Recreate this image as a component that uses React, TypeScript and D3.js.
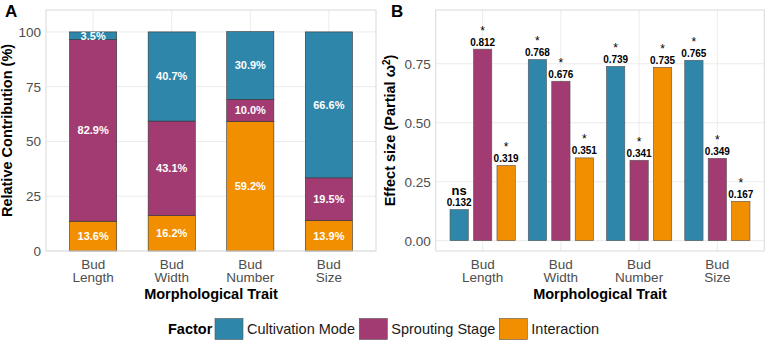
import React from 'react';
import * as d3 from 'd3';

const W = 767;
const H = 340;
const FONT = "'Liberation Sans', Arial, Helvetica, sans-serif";

// data
const traits = ['Bud Length', 'Bud Width', 'Bud Number', 'Bud Size'];
const factors = ['Cultivation Mode', 'Sprouting Stage', 'Interaction'];
const factorColors = ['#2E86AB', '#A23B72', '#F18F01'];

// relative contribution (%), per trait
const contribCultivation = [3.5, 40.7, 30.9, 66.6];
const contribSprouting = [82.9, 43.1, 10.0, 19.5];
const contribInteraction = [13.6, 16.2, 59.2, 13.9];

// partial omega squared, per trait
const effectCultivation = [0.132, 0.768, 0.739, 0.765];
const effectSprouting = [0.812, 0.676, 0.341, 0.349];
const effectInteraction = [0.319, 0.351, 0.735, 0.167];
const sigCultivation = ['ns', '*', '*', '*'];
const sigSprouting = ['*', '*', '*', '*'];
const sigInteraction = ['*', '*', '*', '*'];

const yTicksA = [0, 25, 50, 75, 100];
const yTicksB = [0, 0.25, 0.5, 0.75];

const panelA = { left: 46, right: 376, top: 10, bottom: 251 };
const panelB = { left: 435.7, right: 764.3, top: 10, bottom: 251 };

const gridColor = '#EBEBEB';
const borderColor = '#D9D9D9';
const tickColor = '#4D4D4D';
const TICK = 13.5;
const TITLE = 14.5;

const TraitLabels = ({ x }: { x: d3.ScaleBand<string> }) => (
  <g>
    {traits.map(t => {
      const [l1, l2] = t.split(' ');
      const cx = (x(t) as number) + x.bandwidth() / 2;
      return (
        <text key={t} x={cx} textAnchor="middle" fontSize={TICK} fill={tickColor} fontFamily={FONT}>
          <tspan x={cx} y={268.5}>{l1}</tspan>
          <tspan x={cx} y={282}>{l2}</tspan>
        </text>
      );
    })}
  </g>
);

function PanelA() {
  const p = panelA;
  const x = d3.scaleBand<string>().domain(traits).range([p.left, p.right]).paddingInner(0).paddingOuter(0.1);
  const y = d3.scaleLinear().domain([0, 110]).range([p.bottom, p.top]);
  const barW = x.step() * 0.6;

  const rows = traits.map((t, i) => ({
    trait: t,
    'Interaction': contribInteraction[i],
    'Sprouting Stage': contribSprouting[i],
    'Cultivation Mode': contribCultivation[i],
  }));
  const stackOrder = ['Interaction', 'Sprouting Stage', 'Cultivation Mode'];
  const series = d3.stack<any>().keys(stackOrder)(rows);

  return (
    <g>
      {yTicksA.map(v => (
        <line key={v} x1={p.left} x2={p.right} y1={y(v)} y2={y(v)} stroke={gridColor} strokeWidth={1} />
      ))}
      {traits.map(t => {
        const cx = (x(t) as number) + x.bandwidth() / 2;
        return <line key={t} x1={cx} x2={cx} y1={p.top} y2={p.bottom} stroke={gridColor} strokeWidth={1} />;
      })}
      {series.map(s => {
        const color = factorColors[factors.indexOf(s.key)];
        return (
          <g key={s.key}>
            {s.map((d, i) => {
              const cx = (x(traits[i]) as number) + x.bandwidth() / 2;
              return (
                <rect key={i} x={cx - barW / 2} y={y(d[1])} width={barW} height={y(d[0]) - y(d[1])}
                  fill={color} stroke="#333333" strokeWidth={0.6} />
              );
            })}
          </g>
        );
      })}
      {series.map(s => (
        <g key={'l' + s.key}>
          {s.map((d, i) => {
            const cx = (x(traits[i]) as number) + x.bandwidth() / 2;
            const v = d[1] - d[0];
            return (
              <text key={i} x={cx} y={y((d[0] + d[1]) / 2)} dy="0.36em" textAnchor="middle"
                fontSize={11} fontWeight="bold" fill="white" fontFamily={FONT}>
                {v.toFixed(1) + '%'}
              </text>
            );
          })}
        </g>
      ))}
      <rect x={p.left} y={p.top} width={p.right - p.left} height={p.bottom - p.top} fill="none" stroke={borderColor} strokeWidth={1} />
      {yTicksA.map(v => (
        <text key={v} x={p.left - 5} y={y(v)} dy="0.36em" textAnchor="end" fontSize={TICK} fill={tickColor} fontFamily={FONT}>{v}</text>
      ))}
      <TraitLabels x={x} />
      <text x={(p.left + p.right) / 2} y={298.5} textAnchor="middle" fontSize={TITLE} fontWeight="bold" fontFamily={FONT}>Morphological Trait</text>
      <text transform={`translate(12,${(p.top + p.bottom) / 2}) rotate(-90)`} textAnchor="middle" fontSize={TITLE} fontWeight="bold" fontFamily={FONT}>Relative Contribution (%)</text>
      <text x={5} y={16.5} fontSize={17} fontWeight="bold" fontFamily={FONT}>A</text>
    </g>
  );
}

function PanelB() {
  const p = panelB;
  const x = d3.scaleBand<string>().domain(traits).range([p.left, p.right]).paddingInner(0).paddingOuter(0.1);
  const half = x.step() * 0.45;
  const xf = d3.scaleBand<string>().domain(factors).range([-half, half]).paddingInner(0.22).paddingOuter(0.11);
  const y = d3.scaleLinear().domain([-0.0437, 0.978]).range([p.bottom, p.top]);

  const values = [effectCultivation, effectSprouting, effectInteraction];
  const sigs = [sigCultivation, sigSprouting, sigInteraction];

  return (
    <g>
      {yTicksB.map(v => (
        <line key={v} x1={p.left} x2={p.right} y1={y(v)} y2={y(v)} stroke={gridColor} strokeWidth={1} />
      ))}
      {traits.map(t => {
        const cx = (x(t) as number) + x.bandwidth() / 2;
        return <line key={t} x1={cx} x2={cx} y1={p.top} y2={p.bottom} stroke={gridColor} strokeWidth={1} />;
      })}
      {factors.map((f, fi) => (
        <g key={f}>
          {traits.map((t, i) => {
            const cx = (x(t) as number) + x.bandwidth() / 2;
            const bx = cx + (xf(f) as number);
            const v = values[fi][i];
            const mid = bx + xf.bandwidth() / 2;
            const sig = sigs[fi][i];
            return (
              <g key={t}>
                <rect x={bx} y={y(v)} width={xf.bandwidth()} height={y(0) - y(v)}
                  fill={factorColors[fi]} stroke="#555555" strokeWidth={0.6} />
                <text x={mid} y={y(v) - 3.5} textAnchor="middle" fontSize={10} fontWeight="bold" fontFamily={FONT}>{v.toFixed(3)}</text>
                <text x={mid} y={y(v) - 14.5} textAnchor="middle" fontSize={sig === 'ns' ? 13 : 12}
                  fontWeight={sig === 'ns' ? 'bold' : 'normal'} fontFamily={FONT}>{sig}</text>
              </g>
            );
          })}
        </g>
      ))}
      <rect x={p.left} y={p.top} width={p.right - p.left} height={p.bottom - p.top} fill="none" stroke={borderColor} strokeWidth={1} />
      {yTicksB.map(v => (
        <text key={v} x={p.left - 5} y={y(v)} dy="0.36em" textAnchor="end" fontSize={TICK} fill={tickColor} fontFamily={FONT}>{v.toFixed(2)}</text>
      ))}
      <TraitLabels x={x} />
      <text x={(p.left + p.right) / 2} y={298.5} textAnchor="middle" fontSize={TITLE} fontWeight="bold" fontFamily={FONT}>Morphological Trait</text>
      <text transform={`translate(395,${(p.top + p.bottom) / 2}) rotate(-90)`} textAnchor="middle" fontSize={TITLE} fontWeight="bold" fontFamily={FONT}>
        Effect size (Partial ω<tspan dy="-5" fontSize={10}>2</tspan><tspan dy="5">)</tspan>
      </text>
      <text x={391} y={16.5} fontSize={17} fontWeight="bold" fontFamily={FONT}>B</text>
    </g>
  );
}

function Legend() {
  const keyX = [215, 359.3, 499.3];
  return (
    <g fontFamily={FONT}>
      <text x={168} y={334} fontSize={14.5} fontWeight="bold">Factor</text>
      {factors.map((f, i) => (
        <g key={f}>
          <rect x={keyX[i]} y={318.5} width={28} height={21} fill={factorColors[i]} stroke="#555555" strokeWidth={0.6} />
          <text x={keyX[i] + 32} y={334} fontSize={14.5} fill="#1a1a1a">{f}</text>
        </g>
      ))}
    </g>
  );
}

export default function App() {
  return (
    <svg width={W} height={H} style={{ position: 'absolute', left: 0, top: 0, background: 'white' }}>
      <rect width={W} height={H} fill="white" />
      <PanelA />
      <PanelB />
      <Legend />
    </svg>
  );
}
